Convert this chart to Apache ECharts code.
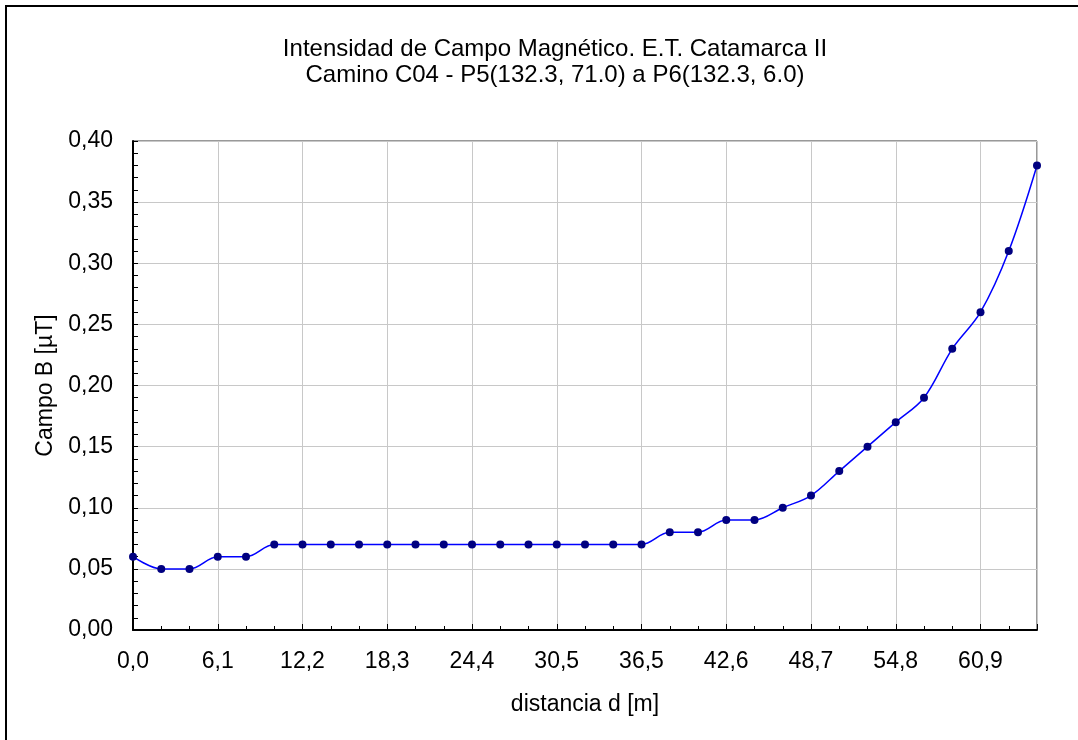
<!DOCTYPE html>
<html>
<head>
<meta charset="utf-8">
<script src="https://cdn.jsdelivr.net/npm/echarts@6/dist/echarts.min.js"></script>
<style>html,body{margin:0;padding:0;background:#fff}#c{width:1078px;height:740px}</style>
</head>
<body>
<div id="c"></div>
<script>
const titleLines = ['Intensidad de Campo Magnético. E.T. Catamarca II', 'Camino C04 - P5(132.3, 71.0) a P6(132.3, 6.0)'];
const xName = 'distancia d [m]';
const yName = 'Campo B [µT]';
const distances = [0, 2.03, 4.06, 6.09, 8.12, 10.15, 12.18, 14.21, 16.24, 18.27, 20.30, 22.33, 24.36, 26.39, 28.42, 30.45, 32.48, 34.51, 36.54, 38.57, 40.60, 42.63, 44.66, 46.69, 48.72, 50.75, 52.78, 54.81, 56.84, 58.87, 60.90, 62.93, 64.96];
const fieldB = [0.06, 0.05, 0.05, 0.06, 0.06, 0.07, 0.07, 0.07, 0.07, 0.07, 0.07, 0.07, 0.07, 0.07, 0.07, 0.07, 0.07, 0.07, 0.07, 0.08, 0.08, 0.09, 0.09, 0.10, 0.11, 0.13, 0.15, 0.17, 0.19, 0.23, 0.26, 0.31, 0.38];
const xTickLabels = ['0,0', '6,1', '12,2', '18,3', '24,4', '30,5', '36,5', '42,6', '48,7', '54,8', '60,9'];
const yTickLabels = ['0,00', '0,05', '0,10', '0,15', '0,20', '0,25', '0,30', '0,35', '0,40'];
const xMajorStep = 6.09, xMinorStep = 2.03, xMax = 64.96;
const yStep = 0.05, yMax = 0.40;

const font = 'Liberation Sans, Arial, sans-serif';
const chart = echarts.init(document.getElementById('c'));
chart.setOption({
  animation: false,
  backgroundColor: '#fff',
  graphic: [{
    type: 'rect', shape: {x: 6, y: 6, width: 1090, height: 760},
    style: {fill: 'none', stroke: '#000', lineWidth: 2}, silent: true
  }],
  title: {
    text: titleLines.join('\n'),
    left: 550, top: 31, textAlign: 'center',
    textStyle: {fontFamily: font, fontSize: 24, fontWeight: 'normal', color: '#000', lineHeight: 26}
  },
  grid: {left: 133, right: 41, top: 141, bottom: 110, show: true, borderColor: '#333', borderWidth: 1, backgroundColor: 'transparent'},
  xAxis: [{
    type: 'value', min: 0, max: xMax, interval: xMajorStep,
    name: xName, nameLocation: 'middle', nameGap: 63,
    nameTextStyle: {fontFamily: font, fontSize: 23, color: '#000'},
    axisLine: {show: true, lineStyle: {color: '#000', width: 2}},
    axisTick: {show: true, inside: true, length: 6, lineStyle: {color: '#000'}},
    axisLabel: {
      margin: 20, fontFamily: font, fontSize: 23, color: '#000',
      formatter: v => { const i = Math.round(v / xMajorStep); return (Math.abs(v - i * xMajorStep) < 1e-6 && i < xTickLabels.length) ? xTickLabels[i] : ''; }
    },
    splitLine: {show: true, lineStyle: {color: '#c8c8c8', width: 1}}
  }, {
    type: 'value', min: 0, max: xMax, interval: xMinorStep, position: 'bottom',
    axisLine: {show: false},
    axisTick: {show: true, inside: true, length: 4, lineStyle: {color: '#000'}},
    axisLabel: {show: false},
    splitLine: {show: false}
  }],
  yAxis: {
    type: 'value', min: 0, max: yMax, interval: yStep,
    name: yName, nameLocation: 'middle', nameGap: 74, nameRotate: 90,
    nameTextStyle: {fontFamily: font, fontSize: 23, color: '#000'},
    axisLine: {show: true, lineStyle: {color: '#000', width: 2}},
    axisTick: {show: true, inside: true, length: 5, lineStyle: {color: '#000'}},
    minorTick: {show: true, splitNumber: 5, length: 5, lineStyle: {color: '#000'}},
    axisLabel: {
      margin: 20, fontFamily: font, fontSize: 23, color: '#000',
      formatter: v => { const i = Math.round(v / yStep); return yTickLabels[i] || ''; }
    },
    splitLine: {show: true, lineStyle: {color: '#c8c8c8', width: 1}}
  },
  series: [{
    type: 'line',
    xAxisIndex: 0,
    data: distances.map((d, i) => [d, fieldB[i]]),
    smooth: 0.35,
    symbol: 'circle', symbolSize: 8,
    lineStyle: {color: '#0000ff', width: 1.5},
    itemStyle: {color: '#000080'},
    clip: false
  }]
});
</script>
</body>
</html>
